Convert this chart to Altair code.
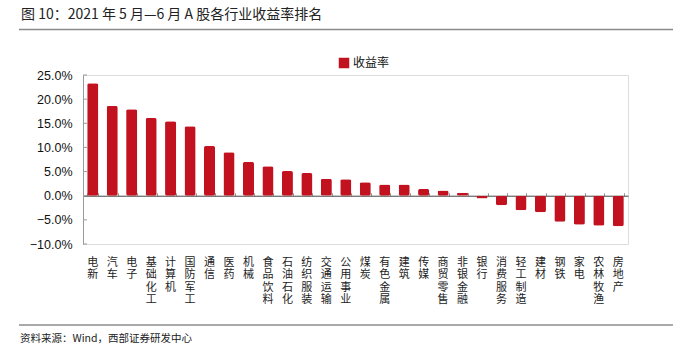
import altair as alt
import pandas as pd

industries = ["电新", "汽车", "电子", "基础化工", "计算机", "国防军工", "通信", "医药", "机械",
              "食品饮料", "石油石化", "纺织服装", "交通运输", "公用事业", "煤炭", "有色金属", "建筑",
              "传媒", "商贸零售", "非银金融", "银行", "消费服务", "轻工制造", "建材", "钢铁", "家电",
              "农林牧渔", "房地产"]
returns_pct = [23.3, 18.6, 17.9, 16.1, 15.4, 14.4, 10.3, 9.0, 7.0, 6.1, 5.1, 4.7, 3.5, 3.4, 2.8,
               2.3, 2.3, 1.4, 1.1, 0.6, -0.6, -2.0, -3.0, -3.4, -5.4, -6.0, -6.2, -6.3]
y_ticks_pct = [-10, -5, 0, 5, 10, 15, 20, 25]

series_name = "收益率"
title_text = "图 10：2021 年 5 月—6 月 A 股各行业收益率排名"
source_text = "资料来源：Wind，西部证券研发中心"

W, H = 545, 169
CJK = "Noto Sans CJK SC"
LAT = "Liberation Sans"
RED = "#C2111F"

df = pd.DataFrame({"行业": industries, "值": [v / 100 for v in returns_pct], "系列": series_name})
tick_df = pd.DataFrame({"t": [v / 100 for v in y_ticks_pct]})
one = pd.DataFrame({"a": [0]})

yscale = alt.Scale(domain=[-0.10, 0.25], nice=False, zero=False)
xscale = alt.Scale(paddingInner=0.43, paddingOuter=0.215)

yaxis = alt.Axis(title=None, values=[v / 100 for v in y_ticks_pct], format=".1%",
                 labelFont=LAT, labelFontSize=12.5, labelColor="#111", ticks=False,
                 domainColor="#9a9a9a", labelPadding=11, grid=False,
                 labelOverlap=False, labelBound=False, labelFlush=False)

bars = alt.Chart(df).mark_bar(cornerRadius=2).encode(
    x=alt.X("行业:N", sort=industries, scale=xscale,
            axis=alt.Axis(title=None, orient="bottom", labelAngle=0, domain=False, ticks=False,
                          labelExpr="split(datum.label, '')", labelFont=CJK, labelFontSize=11,
                          labelLineHeight=12.6, labelColor="#222", labelBaseline="top",
                          labelPadding=12, labelOverlap=False)),
    y=alt.Y("值:Q", scale=yscale, axis=yaxis),
    color=alt.Color("系列:N", scale=alt.Scale(range=[RED]),
                    legend=alt.Legend(title=None, orient="none", legendX=255, legendY=-18,
                                      symbolType="square", symbolSize=110, symbolStrokeWidth=0,
                                      labelFont=CJK, labelFontSize=12, labelColor="#111",
                                      labelOffset=3)),
)

zero_axis = alt.Chart(df).mark_bar(opacity=0).encode(
    x=alt.X("行业:N", sort=industries, scale=xscale,
            axis=alt.Axis(title=None, orient="top", labels=False, domain=True, ticks=True,
                          tickBand="extent", tickSize=3, tickColor="#999999",
                          domainColor="#444444", domainWidth=1, offset=-H * 25 / 35)),
    y=alt.Y("值:Q", scale=yscale, axis=yaxis),
)

yticks = alt.Chart(tick_df).mark_rule(color="#9a9a9a").encode(
    y=alt.Y("t:Q", scale=yscale, axis=yaxis), x=alt.value(0), x2=alt.value(4)
)

title = alt.Chart(one).mark_text(align="left", baseline="middle", font=CJK, fontSize=14,
                                 color="#222").encode(
    x=alt.value(-62), y=alt.value(-60), text=alt.value(title_text))
top_line = alt.Chart(one).mark_rule(color="#8a8a8a", strokeWidth=1.5).encode(
    x=alt.value(-64), x2=alt.value(590), y=alt.value(-45.5), y2=alt.value(-45.5))
bottom_line = alt.Chart(one).mark_rule(color="#555555", strokeWidth=1).encode(
    x=alt.value(-64), x2=alt.value(590), y=alt.value(250), y2=alt.value(250))
source = alt.Chart(one).mark_text(align="left", baseline="middle", font=CJK, fontSize=10.5,
                                  color="#222").encode(
    x=alt.value(-63), y=alt.value(264), text=alt.value(source_text))

chart = alt.layer(bars, zero_axis, yticks, title, top_line, bottom_line, source).resolve_axis(
    x="independent"
).properties(
    width=W, height=H,
    autosize=alt.AutoSizeParams(type="none"),
    padding={"left": 83, "top": 75, "right": 45, "bottom": 106},
).configure_view(stroke=None).configure(background="white")

chart.save("out.html", embed_options={"renderer": "svg", "actions": False})
